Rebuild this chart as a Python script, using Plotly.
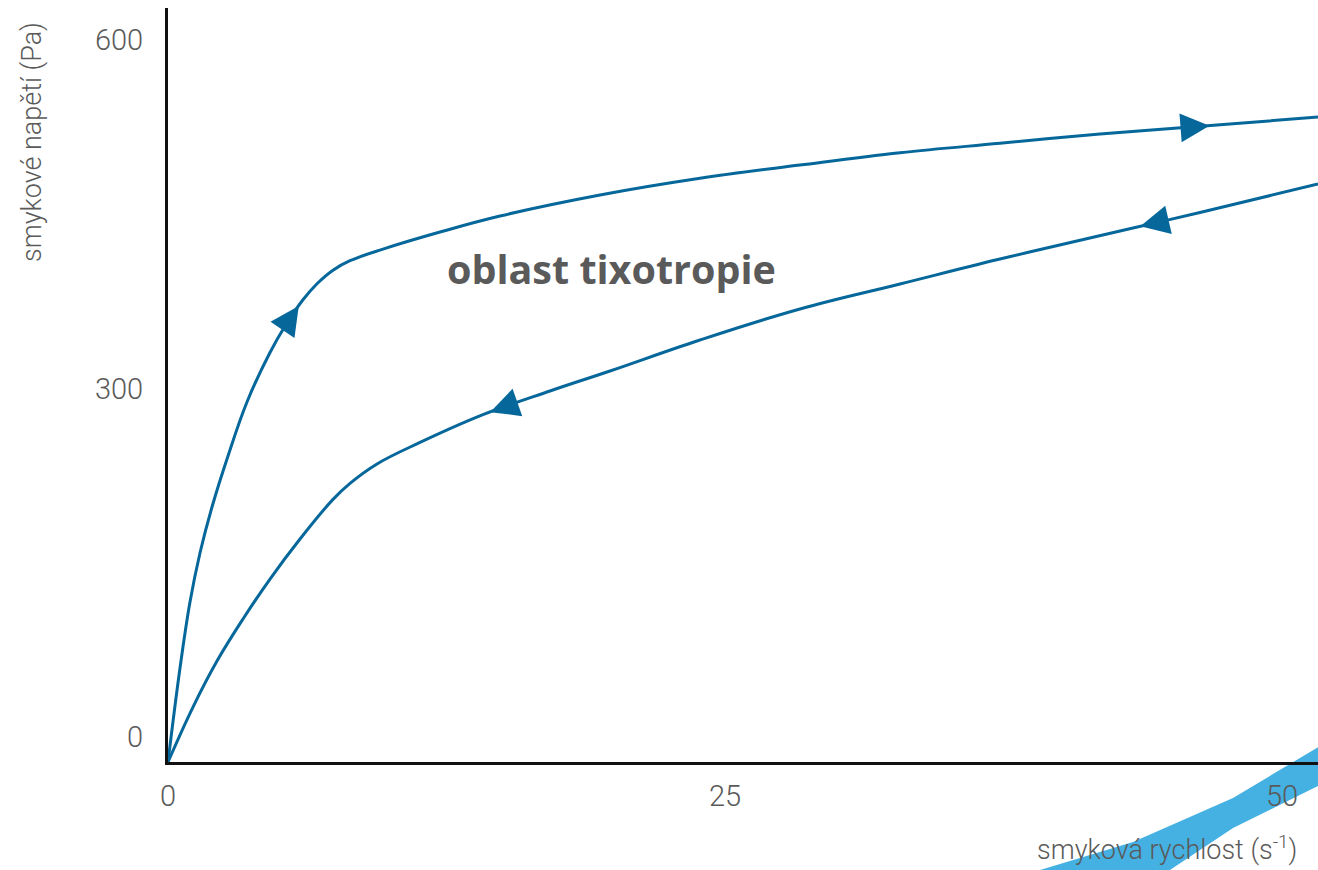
import numpy as np
import plotly.graph_objects as go

# ---- data ----
# upward (increasing shear rate) branch
up_rate = [0.000, 0.539, 0.987, 1.436, 1.975, 2.693, 3.546, 4.578, 5.296, 6.059, 6.688, 7.406,
           8.169, 9.650, 12.208, 14.901, 19.390, 23.878, 28.366, 32.855, 37.343, 41.831, 47.083, 51.616]
up_stress = [0.0, 80.9, 137.7, 179.9, 219.5, 263.4, 309.9, 352.5, 376.6, 397.9, 411.7, 423.4,
             431.5, 441.5, 456.2, 470.0, 488.1, 502.5, 513.9, 524.5, 532.6, 540.6, 548.3, 555.2]
# downward (decreasing shear rate) branch
down_rate = [0.000, 1.122, 2.199, 3.366, 4.578, 5.925, 7.406, 8.169, 9.381, 11.311, 14.138, 17.145,
             19.838, 23.878, 28.366, 32.855, 37.343, 43.312, 46.319, 51.616]
down_stress = [0.0, 47.3, 86.9, 123.1, 157.5, 192.0, 226.1, 239.9, 256.6, 275.1, 299.0, 319.4,
               336.6, 363.3, 390.0, 411.5, 433.0, 459.7, 473.0, 497.6]

# arrow positions (shear rate) on each branch
up_arrow_rate = [6.06, 47.08]
down_arrow_rate = [43.31, 14.14]

x_ticks = [0, 25, 50]
y_ticks = [0, 300, 600]

x_title = "smyková rychlost (s<sup>-1</sup>)"
y_title = "smykové napětí (Pa)"
label = "oblast tixotropie"

# ---- styling ----
CURVE = "#06679b"
GREY = "#5a5a5a"
W, H = 1318, 870
L, R, T, B = 168, 0, 8, 108
PLOT_W = W - L - R          # 1150
PLOT_H = H - T - B          # 754
px_per_x = 22.28
px_per_y = 697 / 600
x_max = PLOT_W / px_per_x
y_max = PLOT_H / px_per_y

PX0, PY0 = L, H - B


def pp(px, py):
    """page pixel -> paper coordinates"""
    return (px - PX0) / PLOT_W, (PY0 - py) / PLOT_H


fig = go.Figure()
for xs, ys in [(up_rate, up_stress), (down_rate, down_stress)]:
    fig.add_trace(go.Scatter(
        x=xs, y=ys, mode="lines",
        line=dict(color=CURVE, width=3, shape="spline", smoothing=1.1),
        cliponaxis=False, hoverinfo="skip", showlegend=False))

arrow_size = 1.93
arrow_w = 3
annotations = []


def add_arrow(xs, ys, x_tip, dx):
    y_tip = float(np.interp(x_tip, xs, ys))
    x_tail = x_tip + dx
    y_tail = float(np.interp(x_tail, xs, ys))
    annotations.append(dict(
        x=x_tip, y=y_tip, ax=x_tail, ay=y_tail, xref="x", yref="y", axref="x", ayref="y",
        text="", showarrow=True, arrowhead=2, arrowsize=arrow_size, arrowwidth=arrow_w,
        arrowcolor=CURVE, standoff=1.3 * arrow_size * arrow_w))


for xa in up_arrow_rate:
    add_arrow(up_rate, up_stress, xa, -0.8)
for xa in down_arrow_rate:
    add_arrow(down_rate, down_stress, xa, 1.2)

# region label
u, v = pp(445, 269)
annotations.append(dict(
    x=u, y=v, xref="paper", yref="paper",
    xanchor="left", yanchor="middle", showarrow=False, text=label,
    font=dict(family="Open Sans", size=39.5, color=GREY, weight="bold")))
# axis titles
u, v = pp(1299, 848)
annotations.append(dict(
    x=u, y=v, xref="paper", yref="paper",
    xanchor="right", yanchor="middle", showarrow=False, text=x_title,
    font=dict(family="Roboto", size=27, color=GREY, weight=300)))
u, v = pp(32, 142)
annotations.append(dict(
    x=u, y=v, xref="paper", yref="paper",
    xanchor="center", yanchor="middle", showarrow=False, text=y_title, textangle=-90,
    font=dict(family="Roboto", size=27, color=GREY, weight=300)))

stripe_px = [(1320, 746), (1233, 798), (1133, 842), (1040, 870), (1020, 880),
             (1155, 880), (1170, 870), (1233, 828), (1320, 785)]
path = ""
for i, (a, b) in enumerate(stripe_px):
    u, v = pp(a, b)
    path += ("M" if i == 0 else "L") + f"{u:.4f},{v:.4f} "
path += "Z"

fig.update_layout(
    width=W, height=H,
    margin=dict(l=L, r=R, t=T, b=B, pad=0),
    paper_bgcolor="white", plot_bgcolor="white",
    showlegend=False,
    annotations=annotations,
    shapes=[dict(type="path", path=path, xref="paper", yref="paper",
                 fillcolor="#45b1e2", line=dict(width=0), layer="below")],
    xaxis=dict(range=[0, x_max], tickvals=x_ticks, ticktext=[str(t) for t in x_ticks],
               showgrid=False, zeroline=False, showline=True, linecolor="#111111", linewidth=3,
               ticks="", ticklabelstandoff=6,
               tickfont=dict(family="Roboto", size=29, color=GREY, weight=300)),
    yaxis=dict(range=[0, y_max], tickvals=y_ticks, ticktext=[str(t) for t in y_ticks],
               showgrid=False, zeroline=False, showline=True, linecolor="#111111", linewidth=3,
               ticks="", ticklabelstandoff=16, ticklabelshift=-25,
               tickfont=dict(family="Roboto", size=29, color=GREY, weight=300)),
)

# remove the default page margin so the figure fills the window exactly
fig.write_html("out.html", config={"displayModeBar": False},
               post_script="document.body.style.margin='0';document.body.style.overflow='hidden';")
